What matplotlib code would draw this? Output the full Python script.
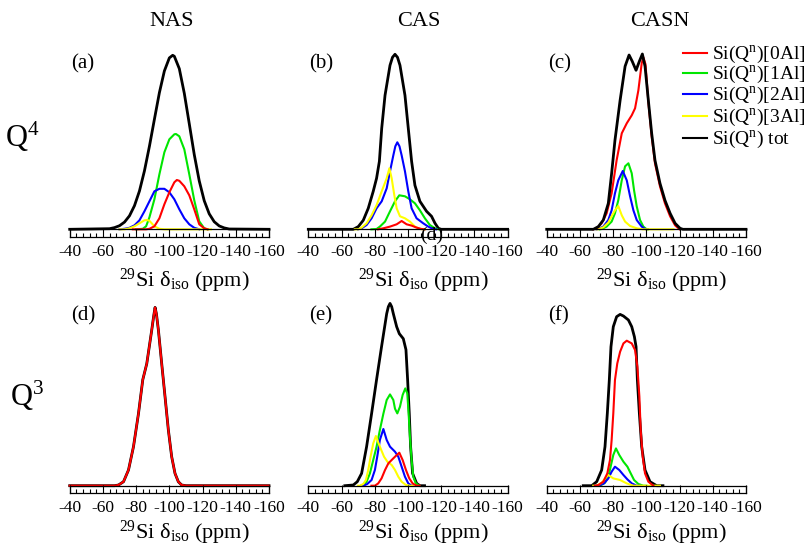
import matplotlib
matplotlib.use("Agg")
import matplotlib.pyplot as plt
from matplotlib.lines import Line2D

plt.rcParams['font.family'] = ['Liberation Serif', 'DejaVu Serif']
plt.rcParams['mathtext.fontset'] = 'custom'
plt.rcParams['mathtext.rm'] = 'Liberation Serif'
plt.rcParams['mathtext.it'] = 'Liberation Serif:italic'
plt.rcParams['mathtext.bf'] = 'Liberation Serif:bold'
plt.rcParams['axes.unicode_minus'] = False

# ---------------- data (29Si chemical shift in ppm, intensity in arb. units) ----------------
COLUMNS = ['NAS', 'CAS', 'CASN']
ROWS = ['Q$^4$', 'Q$^3$']
PANEL_LABELS = ['(a)', '(b)', '(c)', '(d)', '(e)', '(f)']
TICKS = [-40, -60, -80, -100, -120, -140, -160]
TICK_LABELS = ['-40', '-60', '-80', '-100', '-120', '-140', '-160']
SERIES_NAMES = ['Si(Q$^{\\rm n}$)[0Al]', 'Si(Q$^{\\rm n}$)[1Al]', 'Si(Q$^{\\rm n}$)[2Al]',
                'Si(Q$^{\\rm n}$)[3Al]', 'Si(Q$^{\\rm n}$) tot']

# (a) NAS Q4
A_TOT_X = [-40, -64, -67, -70, -73, -76, -79, -82, -85, -88, -91, -94, -97, -100, -102, -103, -106,
           -109, -112, -115, -118, -121, -124, -127, -130, -133, -136, -160]
A_TOT_Y = [0, 0.6, 1.7, 3.6, 7.2, 13.5, 23.6, 38.3, 58.4, 83, 110, 136.6, 158.3, 171.4, 174, 173, 160.6,
           136, 105.5, 74.7, 48.4, 28.6, 15.5, 7.6, 3.4, 1.4, 0.3, 0]
A_Q0_X = [-78, -86, -88, -91, -94, -97, -100, -103, -104.5, -106, -109, -112, -115, -118, -121, -123]
A_Q0_Y = [0, 0, 0.5, 3, 11, 25, 37, 47, 49.3, 48.5, 43, 34, 20, 5, 1, 0]
A_Q1_X = [-80, -84, -86, -88, -91, -94, -97, -100, -103, -104, -106, -109, -112, -115, -118, -121, -123]
A_Q1_Y = [0, 0.5, 3, 12, 30, 55, 77, 90, 95, 95.3, 93, 80, 55, 29, 8, 1, 0]
A_Q2_X = [-70, -73, -76, -79, -82, -85, -88, -91, -94, -97, -100, -103, -106, -109, -112, -115, -118]
A_Q2_Y = [0, 0.5, 1.5, 4, 9, 18, 28, 38, 40.5, 40.5, 37, 30, 20, 11, 5, 1.5, 0]
A_Q3_X = [-70, -73, -76, -79, -82, -85, -86.5, -88, -91, -94, -97, -125]
A_Q3_Y = [0, 0, 1, 3, 6, 9, 9.3, 8.5, 3, 0.5, 0, 0]

# (b) CAS Q4
B_TOT_X = [-40, -67.1, -70.1, -73.1, -76.1, -79.1, -81.1, -82.8, -84.2, -86.2, -89.2, -90.7, -92.2, -93.7,
           -95.2, -98.2, -100.2, -102.2, -104.2, -107.2, -111.2, -114.2, -116.3, -118.3, -120, -160]
B_TOT_Y = [0, 0, 2.7, 9, 21, 38, 51, 68, 101, 134, 164, 172, 175, 172,
           164, 134, 101, 68, 44, 28, 18, 13, 6, 1, 0, 0]
B_Q0_X = [-82, -85.2, -89.2, -93.2, -96.2, -99.2, -102.2, -105.2, -108.2, -110]
B_Q0_Y = [0, 1, 2.7, 5, 8.3, 5, 3.7, 1.7, 0.3, 0]
B_Q1_X = [-78, -81.1, -83.1, -86.2, -89.2, -92.2, -94.8, -98.2, -101.2, -104.2, -107.2, -110.2, -113.2,
          -116.3, -118.5]
B_Q1_Y = [0, 0.3, 2.7, 7.7, 18, 28, 34, 33, 30, 26, 19, 11, 4.3, 1, 0]
B_Q2_X = [-70, -72.1, -75.1, -78.1, -81.1, -84.2, -87.2, -89.2, -91.2, -92.4, -93.6, -94.9, -96.2, -98.2,
          -100.2, -102.2, -105.2, -109.2, -112.2, -115.2, -117]
B_Q2_Y = [0, 1, 4.3, 11, 21, 28, 41, 58, 74, 83, 87, 83, 74, 58, 38, 21, 11, 6, 2.7, 0.3, 0]
B_Q3_X = [-68, -70.1, -72.1, -75.1, -78.1, -81.1, -84.2, -87.2, -88.8, -90.2, -91.8, -93.2, -95.2, -98.2,
          -101.2, -104.2, -107.2, -110]
B_Q3_Y = [0, 0, 1.7, 6, 14, 24, 38, 51, 61, 51, 34, 21, 13, 11, 7.7, 2.7, 0.3, 0]

# (c) CASN Q4
C_TOT_X = [-40, -68.1, -71.1, -74.1, -77.1, -79.1, -81.1, -84.2, -87.2, -89.6, -91.5, -93.8, -95.8, -97.6,
           -99.2, -101.2, -103.2, -105.2, -108.2, -111.2, -114.3, -117.3, -120.3, -122, -160]
C_TOT_Y = [0, 0, 2.7, 9.3, 26, 56, 89, 129, 163, 174.3, 168, 159, 168, 175.3,
           163, 129, 96, 69, 46, 29, 16, 6, 1, 0, 0]
C_Q0_X = [-68, -70.1, -73.1, -76.1, -79.1, -82.1, -85.2, -88.2, -91.2, -93.2, -95.2, -97.2, -98.2, -99.5,
          -101.2, -103.2, -105.2, -108.2, -111.2, -114.3, -117.3, -120]
C_Q0_Y = [0, 1, 6, 16, 36, 69, 96, 106, 114, 121, 139, 166, 172, 165,
          127, 93, 66, 43, 26, 13, 4, 0]
C_Q1_X = [-72, -73.1, -76.1, -79.1, -81.1, -83.1, -85.2, -87.2, -89.2, -91.2, -92.6, -94.2, -96.2, -98.2,
          -100.2, -101]
C_Q1_Y = [0, 0.3, 2.7, 7.7, 16, 29, 49, 63, 66, 56, 39, 23, 9.3, 2.7, 0, 0]
C_Q2_X = [-70, -71.1, -74.1, -77.1, -79.1, -81.1, -83.1, -85.8, -88.2, -90.2, -92.2, -94.2, -97.2, -99.2, -100]
C_Q2_Y = [0, 0.3, 2.7, 9.3, 19, 36, 49, 58.3, 49, 33, 19, 9.3, 2.7, 0.3, 0]
C_Q3_X = [-70, -71.1, -74.1, -77.1, -79.1, -81.1, -83.1, -85.2, -87.2, -90.2, -94.2, -98, -116.3]
C_Q3_Y = [0, 0, 2, 6.7, 13, 19, 23.3, 14, 7.7, 3.3, 1, 0, 0]

# (d) NAS Q3
D_TOT_X = [-40, -67, -69.4, -72.4, -75.4, -78.4, -81.4, -84, -86.4, -89.4, -90.6, -91.4, -92.2, -93.4,
           -95.4, -97.4, -99.4, -101.4, -103.4, -105.4, -107.4, -110, -160]
D_TOT_Y = [0, 0, 0.7, 4, 15.7, 39, 72, 106, 122, 155.7, 170, 178.3, 172, 155.7,
           122, 89, 55.7, 29, 12.3, 4, 0.7, 0, 0]
D_Q0_X = [-40, -67, -69.4, -72.4, -75.4, -78.4, -81.4, -84, -86.4, -89.4, -90.6, -91.4, -92.2, -93.4,
          -95.4, -97.4, -99.4, -101.4, -103.4, -105.4, -107.4, -110, -160]
D_Q0_Y = [0, 0, 0.7, 4, 15.7, 39, 72, 106, 122, 155.7, 170, 178.3, 172, 155.7,
          122, 89, 55.7, 29, 12.3, 4, 0.7, 0, 0]

# (e) CAS Q3
E_TOT_X = [-62, -67.1, -69.5, -72.1, -75.1, -78.1, -81.1, -84.1, -87.2, -88.2, -89.2, -90.2, -91.2, -93.2,
           -94.8, -97.2, -98.8, -99.8, -100.8, -101.6, -102.8, -105.2, -107.2, -110]
E_TOT_Y = [0, 0.7, 4, 12.3, 39, 72, 106, 139, 172, 179, 182.3, 179, 172, 159,
           152, 147, 136, 106, 72, 39, 12.3, 2.3, 0, 0]
E_Q0_X = [-78, -80.1, -82.1, -84.1, -86.2, -88.2, -90.2, -92.2, -94.8, -96.8, -98.8, -100.8, -102.8,
          -105.2, -107]
E_Q0_Y = [0, 0, 2.3, 7.3, 15.7, 22.3, 25.7, 29, 33, 25.7, 15.7, 7.3, 2.3, 0, 0]
E_Q1_X = [-72, -73.1, -75.1, -77.1, -79.1, -81.1, -83.1, -85.2, -87.2, -89.2, -91.2, -92.2, -93.6, -95.2,
          -96.8, -98.4, -99.6, -100.4, -101.2, -102.2, -103.2, -104.8, -106.8]
E_Q1_Y = [0, 0.7, 4, 12.3, 25.7, 39, 55.7, 72, 85.7, 91.3, 85.7, 77, 72.3, 79,
          90.7, 97.3, 92.3, 72.3, 49, 25.7, 9, 2.3, 0]
E_Q2_X = [-72, -73.1, -75.5, -78.1, -80.1, -81.5, -83.1, -85.2, -87.2, -89.2, -92.2, -94.2, -96.2, -98.2,
          -100.2, -102.2, -103]
E_Q2_Y = [0, 0, 1.7, 5.7, 15.7, 29, 45.7, 56.7, 45.7, 39, 34, 29, 19, 9, 2.3, 0, 0]
E_Q3_X = [-70, -71.1, -73.1, -74.7, -76.1, -77.5, -79.1, -80.7, -83.1, -85.6, -87.6, -90.2, -92.2, -94.2,
          -96.2, -98.8, -101.2, -103]
E_Q3_Y = [0, 0, 1.7, 5.7, 15.7, 29, 42.3, 49.7, 39, 29, 24, 20.7, 15.7, 9, 4, 0.7, 0, 0]

# (f) CASN Q3
F_TOT_X = [-62, -67.1, -70.1, -73.1, -75.1, -76.5, -77.7, -78.7, -80.1, -82.1, -84.2, -86.2, -89.2, -91.2,
           -92.8, -93.8, -94.6, -95.8, -97.2, -99.2, -102.2, -106.2, -110]
F_TOT_Y = [0, 0, 4, 15.7, 39, 72.3, 105.7, 139, 159, 169, 171.3, 169.7, 165.7, 159,
           149, 139, 105.7, 72.3, 39, 15.7, 4, 0, 0]
F_Q0_X = [-69, -71.1, -74.1, -76.5, -78.1, -79.1, -80.1, -81.1, -82.5, -84.2, -86.2, -88.2, -91.2, -93.2,
          -94.6, -95.8, -96.6, -97.8, -99.2, -101.2, -104.2]
F_Q0_Y = [0, 0.7, 4, 12.3, 25.7, 45.7, 72.3, 105.7, 122.3, 134, 142.3, 145, 142.3, 135.7,
          119, 89, 55.7, 29, 12.3, 4, 0]
F_Q1_X = [-70, -72.1, -75.1, -77.1, -78.5, -80.1, -81.7, -83.7, -86.2, -88.6, -90.6, -92.6, -95.2, -98.2, -100]
F_Q1_Y = [0, 0, 3, 9, 19, 30.7, 37.3, 30.7, 24, 19, 12.3, 5.7, 1.7, 0, 0]
F_Q2_X = [-69, -71.1, -74.5, -77.1, -79.1, -81.1, -83.7, -86.2, -88.6, -91.2, -94.2, -96]
F_Q2_Y = [0, 0, 2.3, 7.3, 14, 19, 15.7, 10.7, 6.3, 2.3, 0, 0]
F_Q3_X = [-68, -70.1, -73.1, -75.1, -77.1, -80.1, -84.2, -88.2, -92.2, -108.2]
F_Q3_Y = [0, 0, 3, 7.3, 10.7, 7.3, 5.7, 2.3, 0, 0]

# ---------------- style ----------------
COL_Q0, COL_Q1, COL_Q2, COL_Q3, COL_TOT = '#ff0000', '#00e600', '#0000ff', '#ffff00', '#000000'
LW_TOT, LW_C = 2.0, 1.5

W, H = 806, 549
fig = plt.figure(figsize=(W / 100, H / 100), dpi=100)


def px_axes(x0, y_top, w, h):
    return fig.add_axes([x0 / W, 1 - (y_top + h) / H, w / W, h / H])


LEFTS = [69.7, 308.3, 546.7]
PW = 199.3
BASES = [229.3, 485.7]
STRIP_H = 7.7
YMAX = 190
TICK_PAD = [5.0, 5.0]

panels = [
    [(A_TOT_X, A_TOT_Y), (A_Q0_X, A_Q0_Y), (A_Q1_X, A_Q1_Y), (A_Q2_X, A_Q2_Y), (A_Q3_X, A_Q3_Y)],
    [(B_TOT_X, B_TOT_Y), (B_Q0_X, B_Q0_Y), (B_Q1_X, B_Q1_Y), (B_Q2_X, B_Q2_Y), (B_Q3_X, B_Q3_Y)],
    [(C_TOT_X, C_TOT_Y), (C_Q0_X, C_Q0_Y), (C_Q1_X, C_Q1_Y), (C_Q2_X, C_Q2_Y), (C_Q3_X, C_Q3_Y)],
    [(D_TOT_X, D_TOT_Y), (D_Q0_X, D_Q0_Y), None, None, None],
    [(E_TOT_X, E_TOT_Y), (E_Q0_X, E_Q0_Y), (E_Q1_X, E_Q1_Y), (E_Q2_X, E_Q2_Y), (E_Q3_X, E_Q3_Y)],
    [(F_TOT_X, F_TOT_Y), (F_Q0_X, F_Q0_Y), (F_Q1_X, F_Q1_Y), (F_Q2_X, F_Q2_Y), (F_Q3_X, F_Q3_Y)],
]
colors = [COL_TOT, COL_Q0, COL_Q1, COL_Q2, COL_Q3]
minor = [v for v in range(-44, -160, -4) if v % 20 != 0]

for i, curves in enumerate(panels):
    r, c = divmod(i, 3)
    base = BASES[r]
    ax = px_axes(LEFTS[c], base - YMAX, PW, YMAX)
    ax.set_xlim(-40, -160)
    ax.set_ylim(0, YMAX)
    ax.axis('off')
    # draw order: total first, then components (for CASN Q4 total on top)
    order = [0, 2, 3, 4, 1] if i != 2 else [2, 3, 4, 1, 0]
    for k in order:
        cur = curves[k]
        if cur is None:
            continue
        ax.plot(cur[0], cur[1], color=colors[k], lw=LW_TOT if k == 0 else LW_C,
                clip_on=False, solid_joinstyle='round', zorder=3 + order.index(k))
    # tick strip
    sax = px_axes(LEFTS[c], base, PW, STRIP_H)
    sax.set_xlim(-40, -160)
    sax.set_ylim(0, 1)
    sax.set_yticks([])
    sax.set_xticks(TICKS)
    sax.set_xticklabels(TICK_LABELS)
    sax.set_xticks(minor, minor=True)
    sax.tick_params(which='major', direction='in', length=5.6, width=0.8, pad=TICK_PAD[r], labelsize=12.5)
    sax.tick_params(which='minor', direction='in', length=2.8, width=0.8)
    for sp in sax.spines.values():
        sp.set_linewidth(0.9)
    sax.patch.set_alpha(0)
    # panel label
    fig.text((LEFTS[c] + 1) / W, 1 - 64 / H if r == 0 else 1 - 315.5 / H, PANEL_LABELS[i],
             fontsize=15, va='center', ha='left')

# column titles
TITLE_X = [171.3, 418.8, 660]
for c in range(3):
    fig.text(TITLE_X[c] / W, 1 - 22 / H, COLUMNS[c], fontsize=16, ha='center', va='center')

# x labels
XL_Y = [286.7, 538.5]
for r in range(2):
    for c in range(3):
        fig.text((LEFTS[c] + PW / 2 + 15) / W, 1 - XL_Y[r] / H,
                 '$^{29}$Si δ$_{\\rm iso}$ (ppm)', fontsize=16, ha='center', va='baseline')

# row labels
fig.text(22 / W, 1 - 147 / H, ROWS[0], fontsize=22, ha='center', va='baseline')
fig.text(27 / W, 1 - 406 / H, ROWS[1], fontsize=22, ha='center', va='baseline')

# stray label in panel (b)
fig.text(431.5 / W, 1 - 235.5 / H, '(d)', fontsize=14, ha='center', va='center')

# legend
LEG_Y = [53.3, 73.3, 94.3, 116, 138.3]
leg_cols = [COL_Q0, COL_Q1, COL_Q2, COL_Q3, COL_TOT]
for k in range(5):
    y = 1 - LEG_Y[k] / H
    fig.add_artist(Line2D([683 / W, 707 / W], [y, y], transform=fig.transFigure,
                          color=leg_cols[k], lw=LW_C if k < 4 else 1.5))
    fig.text(712 / W, 1 - (LEG_Y[k] + 5.5) / H, SERIES_NAMES[k], fontsize=14, ha='left', va='baseline')

fig.savefig('out.png', dpi=100)
